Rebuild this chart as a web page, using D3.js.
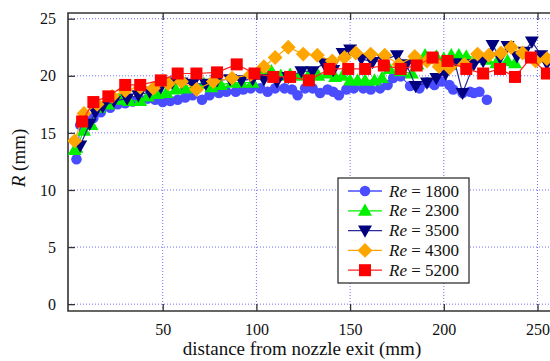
<!DOCTYPE html>
<html><head><meta charset="utf-8">
<script src="https://cdn.jsdelivr.net/npm/d3@7"></script>
<style>body{margin:0;background:#fff}svg{display:block}
svg text{font-family:"Liberation Serif","DejaVu Serif","Times New Roman",Times,serif !important;}</style>
</head><body><svg id="c" width="550" height="361"></svg>
<script>
const xTicks = [50, 100, 150, 200, 250];
const yTicks = [0, 5, 10, 15, 20, 25];
const seriesNames = ["1800", "2300", "3500", "4300", "5200"];

const re1800X = [4,6,8,13,17,22,26,30,34,38,42,46,50,54,58,62,66,71,75,80,84,89,93,97,102,106,110,115,119,122,126,130,134,138,141,144,148,152,157,161,166,170,173,177,182,187,191,195,199,203,205,210,214,216,219,223];
const re1800R = [12.7,15.7,16.2,16.3,16.8,17.2,17.5,17.6,17.75,17.9,18.0,17.9,17.7,17.8,17.9,18.1,18.3,17.9,18.3,18.5,18.6,18.6,18.8,18.9,18.9,18.6,18.9,18.9,18.8,18.3,18.9,18.9,18.5,18.8,18.6,18.3,18.8,18.9,18.9,18.8,18.9,19.2,19.8,19.95,19.1,18.9,19.4,19.2,19.5,19.2,18.8,18.5,18.6,18.5,18.6,17.9];

const re2300X = [3,4,8,12,16,21,27,32,38,42,47,52,57,62,67,72,76,81,87,92,98,103,108,113,118,123,128,133,138,142,146,150,154,158,163,167,171,177,183,186,190,196,200,204,208,212,218,223,228,234,238];
const re2300R = [13.5,13.7,15.2,15.7,17.2,17.5,17.9,17.8,17.8,18.2,18.4,18.5,18.8,18.9,19.0,19.3,19.0,19.2,19.4,19.4,19.4,20.2,20.4,20.0,20.1,20.0,20.1,20.0,20.2,19.9,20.0,19.6,19.6,19.6,19.6,19.8,20.6,20.4,20.2,21.0,21.8,21.7,21.5,21.8,21.8,21.7,21.6,21.4,21.1,21.3,21.1];

const re3500X = [6,11,14,18,24,31,37,43,49,55,60,66,73,79,86,92,98,104,111,117,124,130,136,141,146,150,156,162,168,175,180,185,191,196,201,206,210,216,221,226,230,234,239,243,247,252,255];
const re3500R = [13.9,15.8,16.8,17.3,17.8,18.0,18.3,18.6,19.0,19.4,19.4,19.3,19.3,19.6,19.7,19.6,19.7,19.7,19.5,19.9,20.4,20.4,21.1,20.5,22.0,22.3,21.5,21.2,21.4,21.8,21.0,19.1,19.4,19.8,20.2,21.1,18.5,21.0,21.3,22.7,21.6,22.6,21.7,22.1,23.0,21.8,21.1];

const re4300X = [3,8,15,23,30,38,45,53,60,68,77,87,97,104,110,117,125,132.5,140.5,147,153,161,168.5,176,184.5,191,197.5,203,211,218,224,230.5,236,242,249,255];
const re4300R = [14.3,16.7,17.5,18.2,18.7,19.0,18.9,19.3,19.5,18.8,19.5,19.8,20.1,20.8,21.6,22.5,21.9,21.8,21.3,21.6,22.0,21.9,21.8,21.0,21.7,21.3,20.8,20.7,21.0,21.9,21.8,22.0,22.5,22.0,21.3,21.5];

const re5200X = [7,13,21,30,38,49,58,68,79,89.5,99,109,118,128,139,149,158,168,177,185.5,194,202,212,221,230,238,246.5,255];
const re5200R = [16.0,17.7,18.2,19.2,19.2,19.6,20.2,20.2,20.3,21.0,20.2,19.9,19.9,19.6,20.6,20.6,20.6,20.9,20.6,20.9,21.6,21.3,20.6,20.2,20.6,19.9,21.6,20.2];

const seriesX = [re1800X, re2300X, re3500X, re4300X, re5200X];
const seriesR = [re1800R, re2300R, re3500R, re4300R, re5200R];
const markerColors = ["#4a4dff", "#00f000", "#00007f", "#ffa500", "#ff0000"];
const lineColors = ["#4a4dff", "#00f000", "#2a2a9a", "#ffa500", "#ff2020"];
const symbols = ["circle", "up", "down", "diamond", "square"];

const svg = d3.select("#c");
const L = 68, T = 13, B = 311;
const x = d3.scaleLinear().domain([0, 260]).range([69, 69 + 260 * 1.874]);
const y = d3.scaleLinear().domain([-0.6, 25.5]).range([B, T]);

svg.append("defs").append("clipPath").attr("id", "clip")
  .append("rect").attr("x", L).attr("y", T).attr("width", 600).attr("height", B - T);

// grid
const grid = svg.append("g").attr("stroke", "#7070ff").attr("stroke-width", 1).attr("stroke-dasharray", "1,2");
xTicks.forEach(t => grid.append("line").attr("x1", x(t)).attr("x2", x(t)).attr("y1", T).attr("y2", B));
yTicks.forEach(t => grid.append("line").attr("x1", L).attr("x2", 550).attr("y1", y(t)).attr("y2", y(t)));

// axes
const xAxis = d3.axisBottom(x).tickValues(xTicks).tickSizeInner(-7).tickSizeOuter(0).tickPadding(13);
const gx = svg.append("g").attr("transform", `translate(0,${B})`).call(xAxis);
const yAxis = d3.axisLeft(y).tickValues(yTicks).tickSizeInner(-7).tickSizeOuter(0).tickPadding(12);
const gy = svg.append("g").attr("transform", `translate(${L},0)`).call(yAxis);
const gxt = svg.append("g").attr("transform", `translate(0,${T})`).call(d3.axisTop(x).tickValues(xTicks).tickSizeInner(-7).tickSizeOuter(0).tickFormat(""));
[gx, gy, gxt].forEach(g => {
  g.attr("font-family", null);
  g.select(".domain").remove();
  g.selectAll(".tick line").attr("stroke", "#333").attr("stroke-width", 1.3);
  g.selectAll("text").attr("font-size", 16).attr("fill", "#111");
});
svg.append("path").attr("d", `M550,${T}H${L}V${B}H550`).attr("fill", "none").attr("stroke", "#333").attr("stroke-width", 1.6);

// titles
svg.append("text").attr("x", 302).attr("y", 355).attr("text-anchor", "middle")
  .attr("font-size", 19).attr("fill", "#111").text("distance from nozzle exit (mm)");
const yt = svg.append("text").attr("transform", "translate(25,158) rotate(-90)").attr("text-anchor", "middle")
  .attr("font-size", 19).attr("fill", "#111");
yt.append("tspan").attr("font-style", "italic").text("R");
yt.append("tspan").text(" (mm)");

function drawMarker(g, sym, cx, cy, color, s) {
  if (sym === "circle") g.append("circle").attr("cx", cx).attr("cy", cy).attr("r", s * 0.48).attr("fill", color);
  else if (sym === "square") g.append("rect").attr("x", cx - s / 2).attr("y", cy - s / 2).attr("width", s).attr("height", s).attr("fill", color);
  else if (sym === "up") g.append("path").attr("d", `M${cx},${cy - s * 0.6}L${cx + s * 0.58},${cy + s * 0.42}L${cx - s * 0.58},${cy + s * 0.42}Z`).attr("fill", color);
  else if (sym === "down") g.append("path").attr("d", `M${cx},${cy + s * 0.6}L${cx + s * 0.58},${cy - s * 0.42}L${cx - s * 0.58},${cy - s * 0.42}Z`).attr("fill", color);
  else if (sym === "diamond") g.append("path").attr("d", `M${cx},${cy - s * 0.62}L${cx + s * 0.62},${cy}L${cx},${cy + s * 0.62}L${cx - s * 0.62},${cy}Z`).attr("fill", color);
}
const sizes = [11, 12, 12, 12, 12];

const plot = svg.append("g").attr("clip-path", "url(#clip)");
seriesX.forEach((xs, i) => {
  const pts = xs.map((v, j) => [v, seriesR[i][j]]);
  const g = plot.append("g");
  g.append("path").datum(pts).attr("fill", "none").attr("stroke", lineColors[i]).attr("stroke-width", 1.2)
    .attr("d", d3.line().x(d => x(d[0])).y(d => y(d[1])));
  pts.forEach(d => drawMarker(g, symbols[i], x(d[0]), y(d[1]), markerColors[i], sizes[i]));
});

// legend
const lg = svg.append("g");
lg.append("rect").attr("x", 338).attr("y", 178).attr("width", 131).attr("height", 105)
  .attr("fill", "#fff").attr("stroke", "#222").attr("stroke-width", 1.2);
seriesNames.forEach((n, i) => {
  const cy = 191 + i * 19.8;
  lg.append("line").attr("x1", 348).attr("x2", 382).attr("y1", cy).attr("y2", cy).attr("stroke", lineColors[i]).attr("stroke-width", 1.3);
  drawMarker(lg, symbols[i], 365, cy, markerColors[i], sizes[i]);
  const t = lg.append("text").attr("x", 389).attr("y", cy + 5.5).attr("font-size", 17).attr("fill", "#111");
  t.append("tspan").attr("font-style", "italic").text("Re");
  t.append("tspan").text(" = " + n);
});
</script></body></html>
